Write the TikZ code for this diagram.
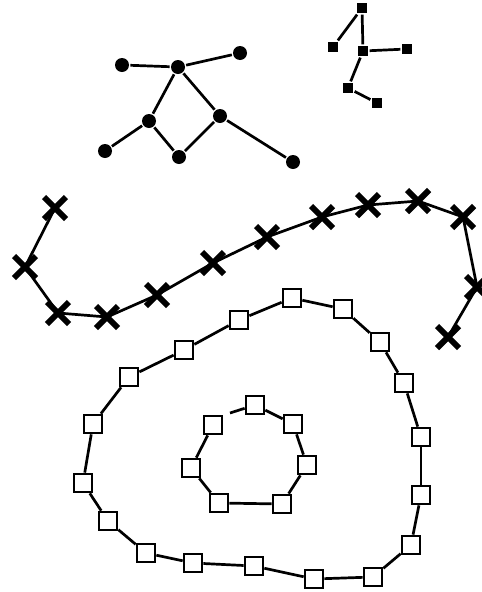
\documentclass[tikz,border=0pt]{standalone}
\usepackage{tikz}
\usetikzlibrary{shapes.misc}
\begin{document}
\begin{tikzpicture}[x=1pt,y=-1pt,line width=2.7pt,
dot/.style={circle,fill=black,inner sep=0pt,minimum size=14pt},
blk/.style={rectangle,fill=black,inner sep=0pt,minimum size=10.5pt},
xmark/.style={cross out,draw=black,line width=6pt,inner sep=0pt,minimum size=16pt},
sq/.style={rectangle,draw=black,fill=white,line width=2.2pt,inner sep=0pt,minimum size=18.5pt}]
\useasboundingbox(0,0)rectangle(482,592);
\node[dot](a)at(122,65){};
\node[dot](b)at(178,67){};
\node[dot](c)at(240,53){};
\node[dot](d)at(149,121){};
\node[dot](e)at(220,116){};
\node[dot](f)at(105,151){};
\node[dot](g)at(179,157){};
\node[dot](h)at(293,162){};
\draw(a)--(b)--(c) (b)--(d)--(f) (d)--(g)--(e)--(h) (b)--(e);
\node[blk](p1)at(362,8){};
\node[blk](p2)at(333,47){};
\node[blk](p3)at(363,51){};
\node[blk](p4)at(407,49){};
\node[blk](p5)at(348,88){};
\node[blk](p6)at(377,103){};
\draw(p2)--(p1)--(p3)--(p4) (p3)--(p5)--(p6);
\foreach\p[count=\i]in{(55,208),(25,267),(58,313),(107,317),(157,295),(213,263),(267,237),(322,217),(368,205),(418,201),(463,217),(477,287),(448,337)}
\node[xmark](x\i)at\p{};
\foreach\i[remember=\i as\j(initially 1)]in{2,...,13}
\draw(x\j.center)--(x\i.center);
\foreach\p[count=\i]in{(292,298),(343,309),(380,342),(404,383),(421,437),(421,495),(411,545),(373,577),(314,579),(254,566),(193,563),(146,553),(108,521),(83,483),(93,424),(129,377),(184,350),(239,320)}
\node[sq](o\i)at\p{};
\foreach\i[remember=\i as\j(initially 18)]in{1,...,18}
\draw(o\j)--(o\i);
\foreach\p[count=\i]in{(255,405),(293,424),(307,465),(282,504),(219,503),(191,468),(213,425)}
\node[sq](i\i)at\p{};
\foreach\i[remember=\i as\j(initially 1)]in{2,...,7}
\draw(i\j)--(i\i);
\coordinate(igap)at(230,413);
\draw(i1)--(igap);
\end{tikzpicture}
\end{document}
